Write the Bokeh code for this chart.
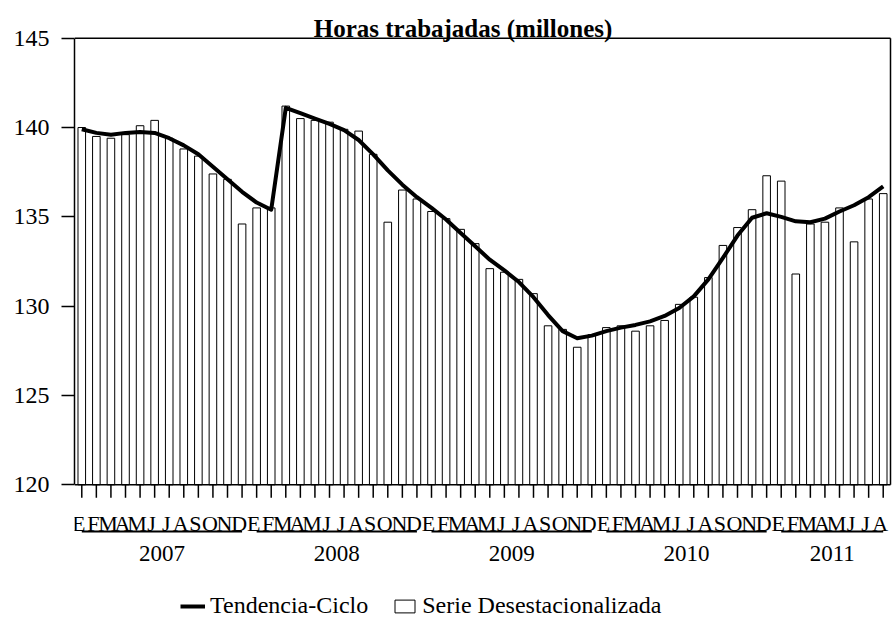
from bokeh.plotting import figure
from bokeh.models import Range1d, FixedTicker, Legend, LegendItem, ColumnDataSource
from bokeh.core.properties import value
from bokeh.embed import file_html
from bokeh.resources import INLINE

# ---------------- data ----------------
title = "Horas trabajadas (millones)"
years = ["2007", "2008", "2009", "2010", "2011"]
months_per_year = [12, 12, 12, 12, 8]
month_letters = ["E", "F", "M", "A", "M", "J", "J", "A", "S", "O", "N", "D"]

# Serie desestacionalizada (bars), Jan 2007 .. Aug 2011
serie = [
    140.0, 139.5, 139.4, 139.6, 140.1, 140.4, 139.4, 138.8, 138.4, 137.4, 137.1, 134.6,
    135.5, 135.5, 141.2, 140.5, 140.4, 140.3, 139.9, 139.8, 138.5, 134.7, 136.5, 136.0,
    135.3, 134.9, 134.3, 133.5, 132.1, 131.9, 131.5, 130.7, 128.9, 128.7, 127.7, 128.4,
    128.8, 128.9, 128.6, 128.9, 129.2, 130.1, 130.5, 131.6, 133.4, 134.4, 135.4, 137.3,
    137.0, 131.8, 134.6, 134.7, 135.5, 133.6, 136.0, 136.3,
]
# Tendencia-Ciclo (line)
tendencia = [
    139.9, 139.7, 139.6, 139.7, 139.75, 139.7, 139.4, 139.0, 138.5, 137.8, 137.1, 136.4,
    135.8, 135.4, 141.1, 140.8, 140.5, 140.2, 139.85, 139.3, 138.5, 137.6, 136.8, 136.1,
    135.5, 134.85, 134.1, 133.35, 132.6, 132.0, 131.35, 130.5, 129.5, 128.6, 128.2, 128.35,
    128.6, 128.8, 128.95, 129.15, 129.45, 129.9, 130.55, 131.5, 132.7, 133.95, 134.95, 135.2,
    135.0, 134.75, 134.7, 134.9, 135.3, 135.65, 136.1, 136.7,
]
y_ticks = [120, 125, 130, 135, 140, 145]

# ---------------- derived ----------------
n = len(serie)
xs = list(range(n))
month_labels = []
for m in months_per_year:
    month_labels += month_letters[:m]

year_start, year_end, year_mid = [], [], []
s = 0
for m in months_per_year:
    year_start.append(s)
    year_end.append(s + m - 1)
    year_mid.append(s + (m - 1) / 2)
    s += m

# ---------------- layout (pixels) ----------------
W, H = 893, 620
LEFT = 74
BOX_RIGHT_PX = 890
SLOT = (BOX_RIGHT_PX - LEFT) / n
Y_MIN, Y_MAX = y_ticks[0], y_ticks[-1]
TOP_PX, BOT_PX = 37.7, 484.3          # canvas px of the 145 and 120 lines
u = (Y_MAX - Y_MIN) / (BOT_PX - TOP_PX)  # data units per px


def below(px):
    return Y_MIN - px * u


x_range = Range1d(-0.5, n - 0.5 + (W - BOX_RIGHT_PX) / SLOT)
y_range = Range1d(Y_MIN - (H - BOT_PX) * u, Y_MAX + TOP_PX * u)

p = figure(width=W, height=H, x_range=x_range, y_range=y_range,
           output_backend="svg", toolbar_location=None,
           x_axis_location=None, min_border_left=LEFT, min_border_right=0,
           min_border_top=0, min_border_bottom=0)
p.grid.visible = False
p.outline_line_color = None
p.background_fill_color = "white"
p.border_fill_color = "white"

FONT = value("Liberation Serif")

src = ColumnDataSource(dict(x=xs, serie=serie, tendencia=tendencia, label=month_labels))

bars = p.vbar(x="x", top="serie", bottom=Y_MIN, width=0.52, source=src,
              fill_color="white", line_color="black", line_width=1)
line = p.line(x="x", y="tendencia", source=src, line_color="black",
              line_width=4, line_join="round")

# plot box (left side is the y axis itself)
p.segment(x0=[-0.5, -0.5, n - 0.5], y0=[Y_MIN, Y_MAX, Y_MIN],
          x1=[n - 0.5, n - 0.5, n - 0.5], y1=[Y_MIN, Y_MAX, Y_MAX],
          line_color="black", line_width=1.5)

# y axis
ya = p.yaxis[0]
ya.ticker = FixedTicker(ticks=y_ticks)
ya.bounds = (Y_MIN, Y_MAX)
ya.axis_line_color = "black"
ya.axis_line_width = 1.5
ya.major_tick_line_width = 1.5
ya.major_tick_out = 13
ya.major_tick_in = 0
ya.minor_tick_line_color = None
ya.major_label_standoff = 12
ya.major_label_text_font = "Liberation Serif"
ya.major_label_text_font_size = "24px"
ya.major_label_text_color = "black"

# category ticks below the 120 line
p.segment(x0="x", x1="x", y0=Y_MIN, y1=below(13), source=src,
          line_color="black", line_width=1.5)

# month labels
p.text(x="x", y=below(39), text="label", source=src, text_align="center",
       text_baseline="alphabetic", text_font=FONT, text_font_size="22px",
       text_color="black", x_offset=-3)

# year underlines and labels
p.segment(x0=year_start, x1=year_end, y0=below(46.7), y1=below(46.7),
          line_color="black", line_width=2)
p.text(x=year_mid, y=[below(69)] * len(years), text=years, text_align="center",
       text_baseline="alphabetic", text_font=FONT, text_font_size="23px",
       text_color="black")

# title
p.text(x=[(x_range.start + x_range.end) / 2], y=[Y_MAX + 9.7 * u], text=[title],
       text_align="center", text_baseline="alphabetic", text_font=FONT,
       text_font_size="25px", text_font_style="bold", text_color="black",
       x_offset=-21)

legend = Legend(items=[LegendItem(label="Tendencia-Ciclo", renderers=[line]),
                       LegendItem(label="Serie Desestacionalizada", renderers=[bars])],
                orientation="horizontal", location=(106, 1),
                glyph_width=25, glyph_height=16, label_standoff=5, spacing=24,
                padding=0, margin=0, border_line_color=None,
                background_fill_alpha=0,
                label_text_font="Liberation Serif", label_text_font_size="24px",
                label_text_color="black")
p.add_layout(legend)

open("out.html", "w").write(file_html(p, INLINE))
